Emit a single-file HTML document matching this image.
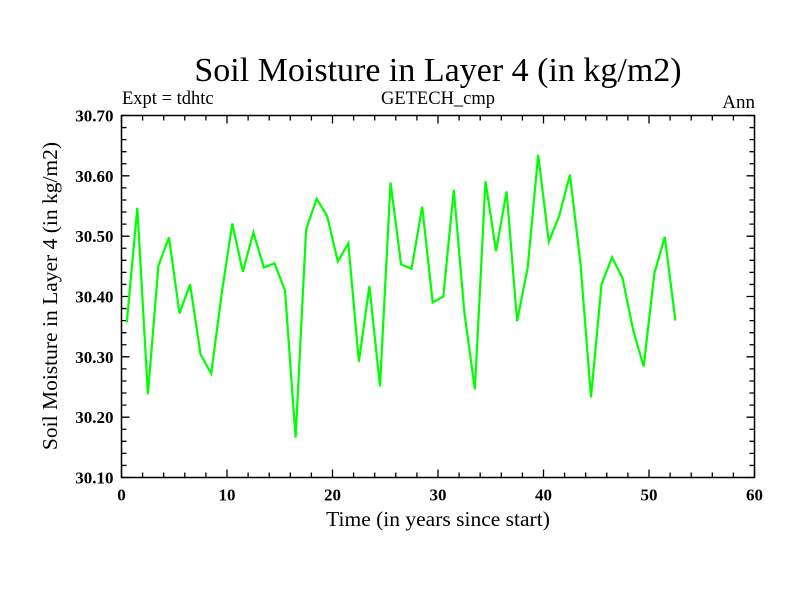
<!DOCTYPE html>
<html><head><meta charset="utf-8"><style>html,body{margin:0;padding:0;background:#fff}svg{display:block}</style></head>
<body>
<svg id="chart" width="800" height="600" xmlns="http://www.w3.org/2000/svg" font-family="Liberation Serif, serif">
<rect width="800" height="600" fill="#fff"/>
<text x="438" y="81" font-size="34" text-anchor="middle">Soil Moisture in Layer 4 (in kg/m2)</text>
<text x="122" y="104" font-size="18.5">Expt = tdhtc</text>
<text x="438" y="104" font-size="18.5" text-anchor="middle">GETECH_cmp</text>
<text x="755" y="108" font-size="19" text-anchor="end">Ann</text>
<text transform="translate(57,296) rotate(-90)" font-size="21.5" text-anchor="middle">Soil Moisture in Layer 4 (in kg/m2)</text>
<text x="438" y="526" font-size="21.5" text-anchor="middle">Time (in years since start)</text>
<g id="axes"></g>
<g id="series"></g>
</svg>
<script>
const years = [0.5,1.5,2.5,3.5,4.5,5.5,6.5,7.5,8.5,9.5,10.5,11.5,12.5,13.5,14.5,15.5,16.5,17.5,18.5,19.5,20.5,21.5,22.5,23.5,24.5,25.5,26.5,27.5,28.5,29.5,30.5,31.5,32.5,33.5,34.5,35.5,36.5,37.5,38.5,39.5,40.5,41.5,42.5,43.5,44.5,45.5,46.5,47.5,48.5,49.5,50.5,51.5,52.5];
const moisture = [30.357,30.547,30.238,30.451,30.498,30.372,30.420,30.304,30.272,30.405,30.521,30.441,30.506,30.448,30.455,30.410,30.166,30.511,30.562,30.533,30.458,30.488,30.292,30.417,30.251,30.589,30.453,30.446,30.549,30.390,30.400,30.577,30.373,30.246,30.591,30.475,30.574,30.359,30.448,30.635,30.491,30.534,30.602,30.456,30.233,30.420,30.465,30.430,30.344,30.284,30.438,30.499,30.360];
const xTicks = [0,10,20,30,40,50,60];
const yTicks = [30.10,30.20,30.30,30.40,30.50,30.60,30.70];
const X0=121.5,X1=754.5,Y0=477.5,Y1=115.5;
const xMin=0,xMax=60,yMin=30.1,yMax=30.7;
const sx=v=>X0+(v-xMin)/(xMax-xMin)*(X1-X0);
const sy=v=>Y0-(v-yMin)/(yMax-yMin)*(Y0-Y1);
const NS="http://www.w3.org/2000/svg";
const axes=document.getElementById('axes');
function mk(tag,attrs,parent){const e=document.createElementNS(NS,tag);for(const k in attrs)e.setAttribute(k,attrs[k]);parent.appendChild(e);return e;}
const frame=mk('rect',{x:X0,y:Y1,width:X1-X0,height:Y0-Y1,fill:'none',stroke:'#000','stroke-width':1.5},axes);


let d='';
for(let v=xMin;v<=xMax+1e-9;v+=2){const x=sx(v);const L=(Math.round(v)%10===0)?8:5;d+=`M${x},${Y0}v${-L}M${x},${Y1}v${L}`;}
for(let i=0;i<=30;i++){const v=yMin+i*0.02;const y=sy(v);const L=(i%5===0)?8:5;d+=`M${X0},${y}h${L}M${X1},${y}h${-L}`;}
const tk=mk('path',{d:d,stroke:'#000','stroke-width':1.3,fill:'none'},axes);


xTicks.forEach(v=>{const t=mk('text',{x:sx(v),y:Y0+23,'font-size':17,'font-weight':'bold','text-anchor':'middle'},axes);t.textContent=v;

});
yTicks.forEach(v=>{const t=mk('text',{x:X0-8,y:sy(v)+6,'font-size':17,'font-weight':'bold','text-anchor':'end'},axes);t.textContent=v.toFixed(2);

});
const pts=years.map((t,i)=>sx(t).toFixed(1)+','+sy(moisture[i]).toFixed(1)).join(' ');
const line=mk('polyline',{points:pts,fill:'none',stroke:'#00ff00','stroke-width':2.2,'stroke-linejoin':'miter'},document.getElementById('series'));


</script>
</body></html>
